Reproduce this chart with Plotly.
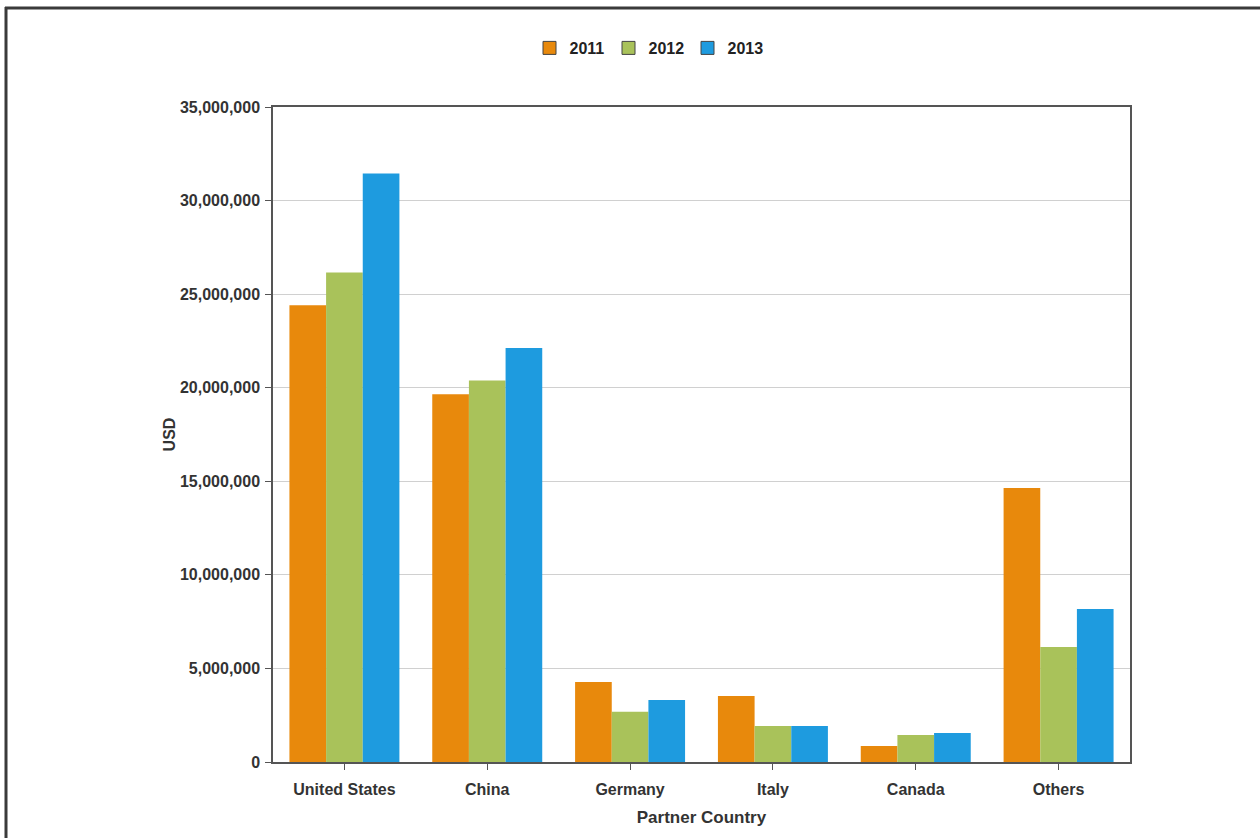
import plotly.graph_objects as go

countries = ["United States", "China", "Germany", "Italy", "Canada", "Others"]
years = ["2011", "2012", "2013"]
v2011 = [24400000, 19650000, 4280000, 3530000, 860000, 14640000]
v2012 = [26150000, 20380000, 2680000, 1930000, 1440000, 6150000]
v2013 = [31450000, 22120000, 3310000, 1930000, 1550000, 8180000]
colors = ["#E8890C", "#A9C25A", "#1E9BDF"]
yticks = [0, 5000000, 10000000, 15000000, 20000000, 25000000, 30000000, 35000000]

FONT = "Liberation Sans, Arial, sans-serif"

fig = go.Figure()
for name, vals, c in zip(years, [v2011, v2012, v2013], colors):
    fig.add_trace(go.Bar(
        x=countries, y=vals, name=name, showlegend=False,
        marker=dict(color=c, line=dict(width=0)),
    ))
# legend entries (square swatches with dark outline)
for name, c in zip(years, colors):
    fig.add_trace(go.Scatter(
        x=[None], y=[None], mode="markers", name=name,
        marker=dict(symbol="square", size=13, color=c, line=dict(color="#444444", width=1)),
    ))

W, H = 1260, 838
L, R, T, B = 273, 130, 107, 76
pw, ph = W - L - R, H - T - B

def px(x):
    return (x - L) / pw

def py(y):
    return (H - B - y) / ph

fig.update_layout(
    width=W, height=H,
    margin=dict(l=L, r=R, t=T, b=B, pad=0),
    paper_bgcolor="white", plot_bgcolor="white",
    barmode="group", bargap=0.23, bargroupgap=0,
    font=dict(family=FONT, size=16, color="#333333"),
    legend=dict(
        orientation="h", x=px(648), xanchor="center", y=py(48), yanchor="middle",
        font=dict(family=FONT, size=16, color="#222222", weight="bold"),
        itemwidth=30, traceorder="normal",
        entrywidth=34, entrywidthmode="pixels",
    ),
    xaxis=dict(
        title=dict(text="<b>Partner Country</b>", font=dict(family=FONT, size=17, color="#333333"), standoff=14),
        showline=True, linecolor="#555555", linewidth=1.5, mirror=True,
        ticks="outside", ticklen=6, tickcolor="#555555",
        tickfont=dict(family=FONT, size=16, color="#333333", weight="bold"),
        ticklabelstandoff=6,
        showgrid=False,
    ),
    yaxis=dict(
        title=dict(text="<b>USD</b>", font=dict(family=FONT, size=16, color="#333333"), standoff=0),
        range=[0, 35000000], tickvals=yticks, tickformat=",d",
        showline=True, linecolor="#555555", linewidth=1.5, mirror=True,
        ticks="outside", ticklen=6, tickcolor="#555555",
        tickfont=dict(family=FONT, size=16, color="#333333", weight="bold"),
        ticklabelstandoff=2,
        showgrid=True, gridcolor="#D0D0D0", gridwidth=1,
        zeroline=False,
    ),
)

# outer frame lines (top and left)
fig.add_shape(type="line", xref="paper", yref="paper",
              x0=px(5), x1=px(W), y0=py(8), y1=py(8),
              line=dict(color="#3a3a3a", width=3))
fig.add_shape(type="line", xref="paper", yref="paper",
              x0=px(6), x1=px(6), y0=py(7), y1=py(H),
              line=dict(color="#3a3a3a", width=3))

fig.write_html("out.html", config={"displayModeBar": False},
               post_script="document.body.style.margin='0px';")
